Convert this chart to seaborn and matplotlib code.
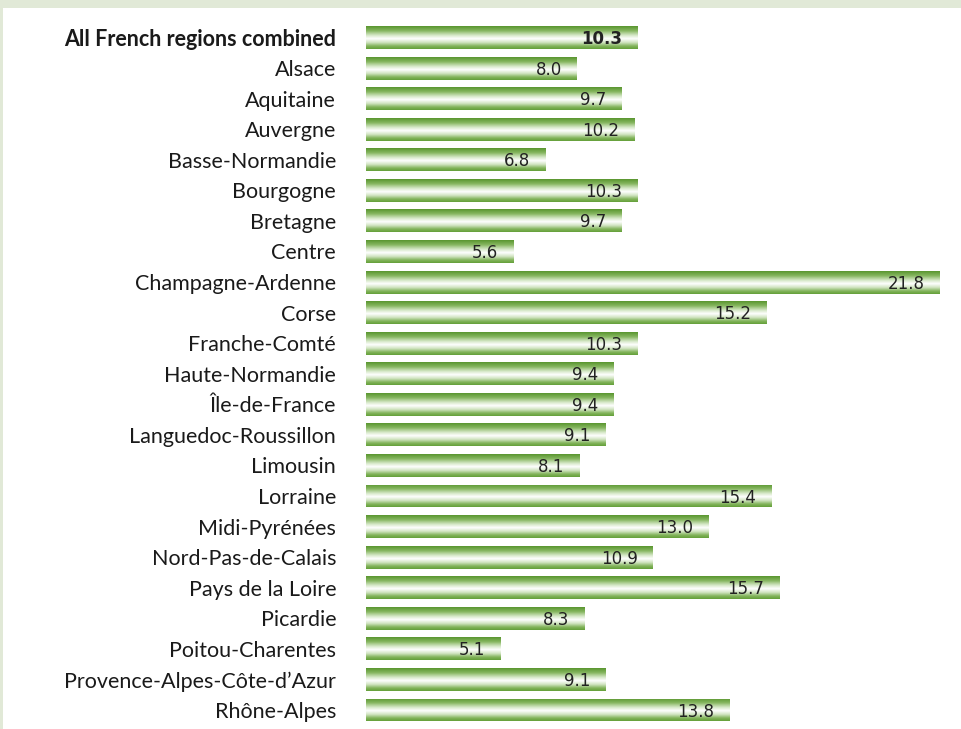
import numpy as np
import pandas as pd
import seaborn as sns
import matplotlib.pyplot as plt
from matplotlib.colors import LinearSegmentedColormap
from matplotlib.patches import Rectangle

regions = ['All French regions combined', 'Alsace', 'Aquitaine', 'Auvergne', 'Basse-Normandie',
           'Bourgogne', 'Bretagne', 'Centre', 'Champagne-Ardenne', 'Corse', 'Franche-Comté',
           'Haute-Normandie', 'Île-de-France', 'Languedoc-Roussillon', 'Limousin', 'Lorraine',
           'Midi-Pyrénées', 'Nord-Pas-de-Calais', 'Pays de la Loire', 'Picardie',
           'Poitou-Charentes', 'Provence-Alpes-Côte-d\u2019Azur', 'Rhône-Alpes']
values = [10.3, 8.0, 9.7, 10.2, 6.8, 10.3, 9.7, 5.6, 21.8, 15.2, 10.3, 9.4, 9.4, 9.1,
          8.1, 15.4, 13.0, 10.9, 15.7, 8.3, 5.1, 9.1, 13.8]

df = pd.DataFrame({'region': regions, 'value': values})

sns.set_theme(style='white')
plt.rcParams['font.family'] = ['Lato', 'DejaVu Sans']

W, H = 962, 729
fig = plt.figure(figsize=(W / 100, H / 100), dpi=100)
fig.patch.set_facecolor('#e1e9d7')
# white panel inside the light green frame
fig.patches.append(Rectangle((3 / W, 0), 1, (H - 8) / H, transform=fig.transFigure,
                             facecolor='white', edgecolor='none', zorder=-1))

ax = fig.add_axes([366 / W, 3.7 / H, (940 - 366) / W, (725.3 - 22.2) / H])
ax.set_zorder(1)
ax.set_facecolor('none')

sns.barplot(data=df, x='value', y='region', orient='h', width=0.75, color='#6aa33a',
            ax=ax, saturation=1)

# vertical green-white-green gradient inside each bar
cmap = LinearSegmentedColormap.from_list('bar', [
    (0.0, '#5a9630'), (0.2, '#86b660'), (0.4, '#d6e8c8'), (0.55, '#ffffff'),
    (0.72, '#cfe3bf'), (0.88, '#82b35a'), (1.0, '#64a03a')])
grad = np.linspace(0, 1, 64).reshape(-1, 1)
for p in list(ax.patches):
    x0, y0 = p.get_x(), p.get_y()
    w, h = p.get_width(), p.get_height()
    im = ax.imshow(grad, cmap=cmap, aspect='auto', extent=[x0, x0 + w, y0 + h, y0],
                   origin='upper', zorder=2, interpolation='bilinear')
    im.set_clip_path(p)
    p.set_facecolor('none')

ax.set_xlim(0, 21.8)
ax.set_ylim(len(regions) - 0.5, -0.5)

px = 21.8 / (940 - 366)
for i, v in enumerate(values):
    ax.text(v - 15 * px, i + 0.05, f'{v:.1f}', ha='right', va='center', fontsize=12,
            color='#222222', zorder=3, fontweight='bold' if i == 0 else 'normal',
            family='DejaVu Sans')

ax.set_xlabel('')
ax.set_ylabel('')
ax.set_xticks([])
ax.tick_params(axis='y', length=0, pad=21.5, labelsize=15.5, labelcolor='#1a1a1a')
for i, lab in enumerate(ax.get_yticklabels()):
    if i == 0:
        lab.set_fontweight('bold')
for s in ax.spines.values():
    s.set_visible(False)

fig.savefig('out.png', dpi=100, facecolor=fig.get_facecolor())
